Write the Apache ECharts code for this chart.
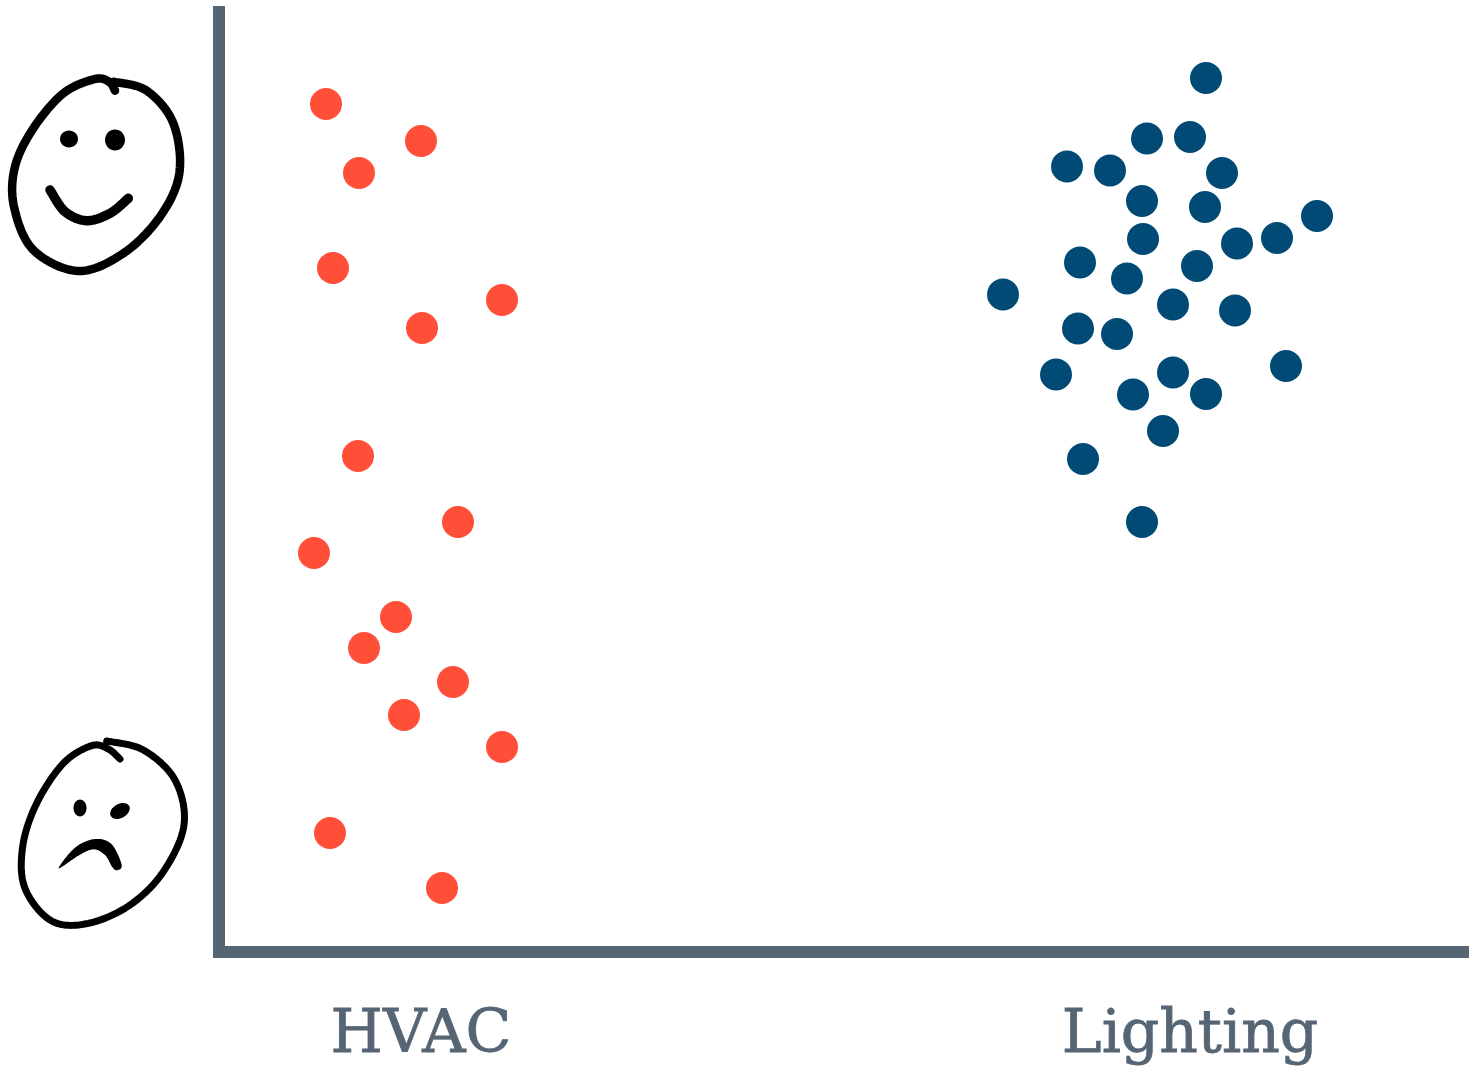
<!DOCTYPE html>
<html>
<head>
<meta charset="utf-8">
<title>HVAC vs Lighting</title>
<script src="https://cdn.jsdelivr.net/npm/echarts@6/dist/echarts.min.js"></script>
<style>
  html, body { margin: 0; padding: 0; background: #fff; }
  #chart { width: 1469px; height: 1073px; }
</style>
</head>
<body>
<div id="chart"></div>
<script>
// satisfaction readings, x is only jitter inside each group
const hvacX = [10.7, 20.2, 14.0, 11.4, 28.3, 20.3, 13.9, 23.9, 9.5, 17.7, 14.5, 23.4, 18.5, 28.3, 11.1, 22.3];
const hvacY = [84.8, 81.1, 77.9, 68.4, 65.2, 62.4, 49.6, 43.0, 39.9, 33.5, 30.4, 27.0, 23.7, 20.5, 11.9, 6.4];
const lightingX = [98.7, 92.8, 97.1, 84.8, 89.1, 100.3, 92.3, 98.6, 109.8, 92.4, 101.8, 105.8, 86.1, 97.8, 90.8, 78.4, 95.4, 101.6, 85.9, 89.8, 83.7, 95.4, 106.7, 91.4, 98.7, 94.4, 86.4, 92.3];
const lightingY = [87.4, 81.35, 81.5, 78.55, 78.15, 77.9, 75.1, 74.5, 73.6, 71.3, 70.85, 71.4, 68.95, 68.6, 67.35, 65.75, 64.75, 64.15, 62.35, 61.8, 57.75, 57.95, 58.6, 55.75, 55.8, 52.1, 49.3, 43.0];
const groupNames = ['HVAC', 'Lighting'];
const groupTicks = [20.2, 97.1];

const axisColor = '#566573';

// the faces are hand drawn, points read from the 3x zoom crops
// catmull-rom through the points, sampled fine enough to look like a pen line
function curve(pts, top, closed) {
  const p = pts.map(q => [q[0] / 3, q[1] / 3 + top]);
  const n = p.length;
  const at = i => closed ? p[(i + n) % n] : p[Math.max(0, Math.min(n - 1, i))];
  const out = [];
  for (let i = 0; i < (closed ? n : n - 1); i++) {
    const a = at(i - 1), b = at(i), c = at(i + 1), e = at(i + 2);
    for (let s = 0; s < 16; s++) {
      const t = s / 16;
      out.push([0, 1].map(k => 0.5 * (2 * b[k] + (c[k] - a[k]) * t
        + (2 * a[k] - 5 * b[k] + 4 * c[k] - e[k]) * t * t
        + (3 * b[k] - a[k] - 3 * c[k] + e[k]) * t * t * t)));
    }
  }
  if (!closed) out.push(p[n - 1]);
  return out;
}
function stroke(pts, top, width) {
  return {
    type: 'polyline',
    shape: { points: curve(pts, top, false) },
    style: { stroke: '#000', fill: null, lineWidth: width, lineCap: 'round', lineJoin: 'round' },
    silent: true
  };
}
function filled(pts, top) {
  return {
    type: 'polygon',
    shape: { points: curve(pts, top, true) },
    style: { fill: '#000' },
    silent: true
  };
}
function blob(cx, cy, rx, ry, angle) {
  return {
    type: 'ellipse',
    shape: { cx: 0, cy: 0, rx: rx, ry: ry },
    x: cx,
    y: cy,
    rotation: angle || 0,
    style: { fill: '#000' },
    silent: true
  };
}

const happyOutline = [[345, 92], [328, 66], [285, 57], [190, 100], [100, 205], [45, 320], [42, 440], [100, 570], [235, 633], [370, 580], [480, 470], [538, 340], [520, 190], [440, 92], [340, 65]];
const happySmile = [[150, 390], [195, 455], [260, 482], [330, 460], [385, 415]];
const sadOutline = [[360, 102], [325, 72], [275, 62], [190, 115], [110, 235], [68, 365], [75, 490], [155, 588], [265, 595], [390, 540], [490, 440], [552, 300], [525, 165], [430, 75], [320, 48]];
const sadMouth = [[176, 430], [225, 368], [285, 342], [335, 358], [365, 420], [350, 436], [336, 425], [315, 390], [280, 373], [235, 392]];

const faces = [
  stroke(happyOutline, 60, 8.5),
  stroke(happySmile, 60, 9.5),
  blob(69, 139, 9, 8.5),
  blob(115, 140, 10, 10.5),
  stroke(sadOutline, 725, 7),
  filled(sadMouth, 725),
  blob(80, 808, 6.5, 8.5),
  blob(120, 811, 10.5, 7, 0.5)
];

const chart = echarts.init(document.getElementById('chart'), null, { renderer: 'canvas' });

chart.setOption({
  animation: false,
  backgroundColor: '#fff',
  grid: { left: 219, right: 0, top: 12, bottom: 121 },
  xAxis: {
    type: 'value',
    min: 0,
    max: 125,
    splitLine: { show: false },
    axisTick: { show: false },
    axisLine: { show: true, lineStyle: { color: axisColor, width: 12, cap: 'square' } },
    axisLabel: {
      show: true,
      customValues: groupTicks,
      margin: 54,
      color: axisColor,
      fontFamily: 'DejaVu Serif',
      fontSize: 60,
      textBorderColor: axisColor,
      textBorderWidth: 0.8,
      formatter: function (v) {
        return groupNames[groupTicks.indexOf(v)];
      }
    }
  },
  yAxis: {
    type: 'value',
    min: 0,
    max: 94,
    splitLine: { show: false },
    axisTick: { show: false },
    axisLabel: { show: false },
    axisLine: { show: true, lineStyle: { color: axisColor, width: 12, cap: 'square' } }
  },
  series: [
    {
      name: 'HVAC',
      type: 'scatter',
      symbolSize: 32,
      itemStyle: { color: '#FF4F38', opacity: 1 },
      data: hvacX.map((x, i) => [x, hvacY[i]])
    },
    {
      name: 'Lighting',
      type: 'scatter',
      symbolSize: 32,
      itemStyle: { color: '#004A75', opacity: 1 },
      data: lightingX.map((x, i) => [x, lightingY[i]])
    }
  ],
  graphic: faces
});
</script>
</body>
</html>
